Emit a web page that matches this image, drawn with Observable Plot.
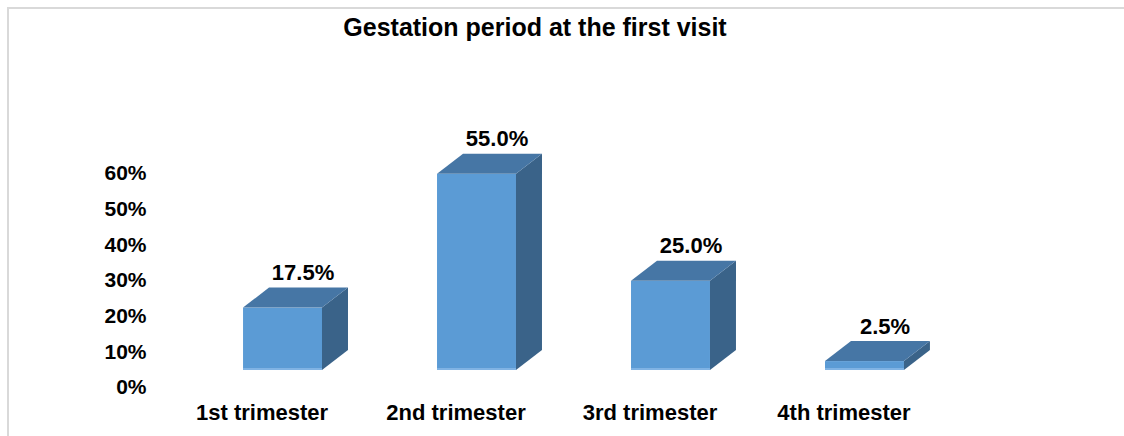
<!DOCTYPE html>
<html><head><meta charset="utf-8">
<script src="https://cdn.jsdelivr.net/npm/d3@7"></script>
<script src="https://cdn.jsdelivr.net/npm/@observablehq/plot@0.6"></script>
<style>
body{margin:0;background:#fff;}
#wrap{position:relative;width:1124px;height:436px;overflow:hidden;font-family:"Liberation Sans",Arial,sans-serif;}
#frame{position:absolute;left:7px;top:7px;right:-10px;bottom:-10px;border-top:2px solid #d9d9d9;border-left:2px solid #d9d9d9;}
#title{position:absolute;left:535px;top:15px;transform:translateX(-50%);font-weight:bold;font-size:25px;line-height:25px;white-space:nowrap;color:#000;}
#chart{position:absolute;left:0;top:0;}
</style></head><body>
<div id="wrap"><div id="frame"></div><div id="title">Gestation period at the first visit</div><div id="chart"></div></div>
<script>
const categories = ["1st trimester", "2nd trimester", "3rd trimester", "4th trimester"];
const values = [0.175, 0.55, 0.25, 0.025];
const valueLabels = ["17.5%", "55.0%", "25.0%", "2.5%"];
const yTicks = [0, 0.1, 0.2, 0.3, 0.4, 0.5, 0.6];
const yTickLabels = ["0%", "10%", "20%", "30%", "40%", "50%", "60%"];

const data = categories.map((c, i) => ({category: c, value: values[i], label: valueLabels[i]}));
const ticks = yTicks.map((t, i) => ({value: t, label: yTickLabels[i]}));

const FRONT = "#5B9BD5", TOP = "#4676A5", SIDE = "#3A6389", STRIPE = "#80B3E4";
const DX = 26, DY = 20;

function faces(index, scales) {
  const x = scales.x, y = scales.y;
  const bw = typeof x.bandwidth === "function" ? x.bandwidth() : x.bandwidth;
  const g = d3.create("svg:g");
  data.forEach(d => {
    const x1 = x(d.category), x2 = x1 + bw, yt = y(d.value), yb = y(0);
    g.append("path")
      .attr("d", `M${x2},${yt}L${x2 + DX},${yt - DY}L${x2 + DX},${yb - DY}L${x2},${yb}Z`)
      .attr("fill", SIDE);
    g.append("path")
      .attr("d", `M${x1},${yt}L${x1 + DX},${yt - DY}L${x2 + DX},${yt - DY}L${x2},${yt}Z`)
      .attr("fill", TOP);
    g.append("rect")
      .attr("x", x1).attr("y", yb - 2).attr("width", bw).attr("height", 2)
      .attr("fill", STRIPE);
  });
  return g.node();
}

const chart = Plot.plot({
  width: 1124,
  height: 436,
  marginLeft: 128,
  marginRight: 105,
  marginTop: 156,
  marginBottom: 66,
  x: {domain: categories, padding: 0.593, round: false, axis: null},
  y: {domain: [0, 0.6], axis: null},
  style: {fontFamily: "'Liberation Sans', Arial, sans-serif", background: "transparent", overflow: "visible"},
  marks: [
    Plot.barY(data, {x: "category", y: "value", fill: FRONT}),
    faces,
    Plot.text(data, {x: "category", y: "value", text: "label", dx: 20, dy: -35, lineAnchor: "middle",
      fontSize: 22, fontWeight: "bold", fill: "#000"}),
    Plot.text(data, {x: "category", frameAnchor: "bottom", text: "category", dx: -21, dy: 42, lineAnchor: "middle",
      fontSize: 22, fontWeight: "bold", fill: "#000"}),
    Plot.text(ticks, {y: "value", frameAnchor: "left", text: "label", textAnchor: "end", dx: 18, dy: 17, lineAnchor: "middle",
      fontSize: 21, fontWeight: "bold", fill: "#000"})
  ]
});
document.getElementById("chart").appendChild(chart);
</script>
</body></html>
